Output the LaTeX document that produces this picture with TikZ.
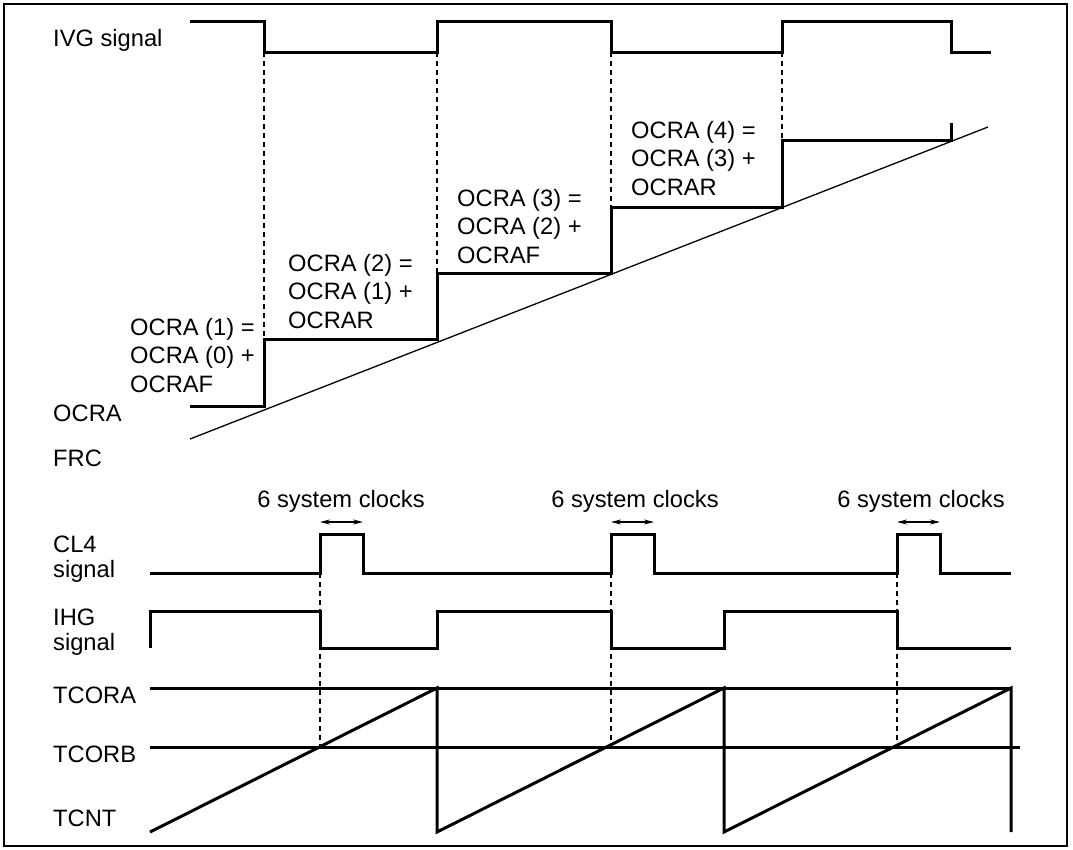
\documentclass[tikz,border=0pt]{standalone}
\usepackage{fontspec}
\setmainfont{Liberation Sans}
\usetikzlibrary{arrows.meta}

\begin{document}
\begin{tikzpicture}[x=1pt, y=-1pt,
  lbl/.style={font=\fontsize{23.7}{28.5}\selectfont, inner sep=0pt, anchor=base west, align=left},
  lbltight/.style={lbl, font=\fontsize{23.7}{24.5}\selectfont},
  wave/.style={line width=3pt, line join=miter},
  guide/.style={line width=1.2pt, dash pattern=on 5pt off 4pt},
  ramp/.style={line width=1.3pt},
  span/.style={line width=1.2pt, {Stealth[length=10pt,width=5pt]}-{Stealth[length=10pt,width=5pt]}}]
\useasboundingbox (0,0) rectangle (1073,849);

% Frame
\draw[line width=2.5pt] (4,4) rectangle (1067,846);

% Upper part: IVG signal, OCRA, FRC
\node[lbl] (ivg) at (53,46) {IVG signal};
\node[lbl] (ocra) at (53,421) {OCRA};
\node[lbl] (frc) at (53,466) {FRC};

\draw[wave] (190,21) -- (264,21) -- (264,52) -- (437,52) -- (437,21) -- (611,21)
  -- (611,52) -- (782,52) -- (782,21) -- (951,21) -- (951,52) -- (991,52);

\draw[wave] (190,406) -- (264,406) -- (264,339) -- (437,339) -- (437,273) -- (611,273)
  -- (611,207) -- (782,207) -- (782,140) -- (951,140) -- (951,123);

\draw[ramp] (190,439) -- (988,127);

\draw[guide] (264,52) -- (264,339);
\draw[guide] (437,52) -- (437,273);
\draw[guide] (611,52) -- (611,207);
\draw[guide] (782,52) -- (782,140);

% Compare match values (base = last line)
\node[lbl] (eq1) at (130,392) {OCRA (1) =\\OCRA (0) +\\OCRAF};
\node[lbl] (eq2) at (288,328) {OCRA (2) =\\OCRA (1) +\\OCRAR};
\node[lbl] (eq3) at (457,263) {OCRA (3) =\\OCRA (2) +\\OCRAF};
\node[lbl] (eq4) at (631,195) {OCRA (4) =\\OCRA (3) +\\OCRAR};

% Lower part: CL4, IHG, TCNT
\node[lbltight] (cl4) at (53,577) {CL4\\signal};
\node[lbltight] (ihg) at (53,650) {IHG\\signal};
\node[lbl] (tcora) at (53,703) {TCORA};
\node[lbl] (tcorb) at (53,762) {TCORB};
\node[lbl] (tcnt) at (53,826) {TCNT};

\node[lbl, anchor=base] (clk1) at (341,507) {6 system clocks};
\node[lbl, anchor=base] (clk2) at (635,507) {6 system clocks};
\node[lbl, anchor=base] (clk3) at (921,507) {6 system clocks};
\draw[span] (320,522) -- (363,522);
\draw[span] (611,522) -- (654,522);
\draw[span] (897,522) -- (940,522);

\draw[wave] (150,573) -- (320,573) -- (320,534) -- (363,534) -- (363,573) -- (611,573)
  -- (611,534) -- (654,534) -- (654,573) -- (897,573) -- (897,534) -- (940,534)
  -- (940,573) -- (1011,573);

\draw[wave] (150,648) -- (150,611) -- (320,611) -- (320,648) -- (437,648) -- (437,611)
  -- (611,611) -- (611,648) -- (724,648) -- (724,611) -- (897,611) -- (897,648)
  -- (1011,648);

\draw[wave] (150,688) -- (1011,688);
\draw[wave] (150,747) -- (1020,747);
\draw[wave] (150,832) -- (437,688) -- (437,832) -- (724,688) -- (724,832) -- (1011,688)
  -- (1011,832);

\draw[guide] (320,573) -- (320,747);
\draw[guide] (611,573) -- (611,747);
\draw[guide] (897,573) -- (897,747);

\end{tikzpicture}
\end{document}
